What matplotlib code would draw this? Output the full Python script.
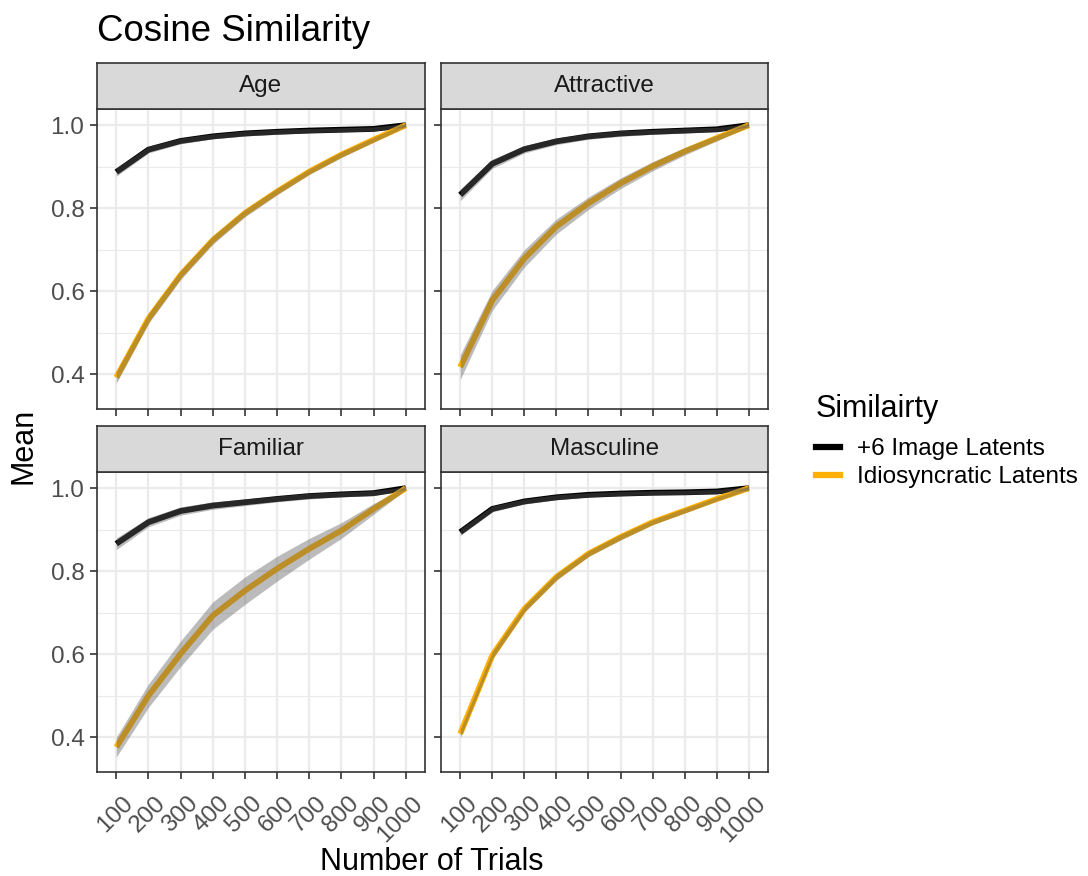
import matplotlib
matplotlib.use('Agg')
import matplotlib.pyplot as plt
import matplotlib.transforms as mtrans
import numpy as np

plt.rcParams['font.family'] = ['Liberation Sans', 'DejaVu Sans']

trials = ['100', '200', '300', '400', '500', '600', '700', '800', '900', '1000']
panels = ['Age', 'Attractive', 'Familiar', 'Masculine']
series = ['+6 Image Latents', 'Idiosyncratic Latents']
colors = ['#000000', '#FFB000']

# mean cosine similarity per panel
age_img = [0.887, 0.941, 0.962, 0.973, 0.980, 0.984, 0.987, 0.989, 0.991, 1.0]
age_idio = [0.392, 0.534, 0.639, 0.723, 0.788, 0.840, 0.888, 0.929, 0.965, 1.0]
attr_img = [0.832, 0.907, 0.942, 0.961, 0.973, 0.980, 0.984, 0.987, 0.990, 1.0]
attr_idio = [0.417, 0.578, 0.679, 0.756, 0.812, 0.860, 0.901, 0.937, 0.969, 1.0]
fam_img = [0.866, 0.918, 0.945, 0.958, 0.966, 0.974, 0.981, 0.985, 0.988, 1.0]
fam_idio = [0.376, 0.500, 0.601, 0.693, 0.753, 0.806, 0.854, 0.898, 0.950, 1.0]
masc_img = [0.894, 0.950, 0.968, 0.978, 0.984, 0.987, 0.989, 0.990, 0.992, 1.0]
masc_idio = [0.408, 0.597, 0.709, 0.786, 0.842, 0.882, 0.918, 0.946, 0.974, 1.0]

# half-width of the grey ribbons
age_img_se = [0.006, 0.004, 0.003, 0.002, 0.002, 0.002, 0.001, 0.001, 0.001, 0.0]
age_idio_se = [0.010, 0.008, 0.007, 0.006, 0.005, 0.004, 0.003, 0.003, 0.002, 0.0]
attr_img_se = [0.010, 0.007, 0.005, 0.004, 0.003, 0.003, 0.002, 0.002, 0.001, 0.0]
attr_idio_se = [0.026, 0.020, 0.017, 0.014, 0.011, 0.009, 0.007, 0.005, 0.003, 0.0]
fam_img_se = [0.010, 0.007, 0.006, 0.005, 0.004, 0.003, 0.003, 0.002, 0.002, 0.0]
fam_idio_se = [0.020, 0.024, 0.027, 0.029, 0.029, 0.026, 0.021, 0.015, 0.009, 0.0]
masc_img_se = [0.004, 0.003, 0.002, 0.002, 0.001, 0.001, 0.001, 0.001, 0.001, 0.0]
masc_idio_se = [0.006, 0.005, 0.004, 0.004, 0.003, 0.003, 0.002, 0.002, 0.001, 0.0]

means = [[age_img, age_idio], [attr_img, attr_idio], [fam_img, fam_idio], [masc_img, masc_idio]]
ses = [[age_img_se, age_idio_se], [attr_img_se, attr_idio_se],
       [fam_img_se, fam_idio_se], [masc_img_se, masc_idio_se]]

W, H = 1088, 876
fig = plt.figure(figsize=(W / 100, H / 100), dpi=100)


def box(x0, y0, x1, y1):
    return [x0 / W, 1 - y1 / H, (x1 - x0) / W, (y1 - y0) / H]


cols = [(97, 425), (441, 768)]
rows = [(63, 109, 409), (426, 472, 772)]
x = np.arange(1, 11)
edge = '#333333'
shift = mtrans.ScaledTranslation(6 / 100, -8 / 100, fig.dpi_scale_trans)

for i, name in enumerate(panels):
    c0, c1 = cols[i % 2]
    s0, p0, p1 = rows[i // 2]
    ax = fig.add_axes(box(c0, p0, c1, p1))
    for j in range(2):
        m = np.array(means[i][j])
        se = np.array(ses[i][j])
        ax.plot(x, m, color=colors[j], lw=4.2, solid_capstyle='butt', zorder=3)
        ax.fill_between(x, m - se - 0.004, m + se + 0.004, color='#5f5f5f',
                        alpha=0.42, lw=0, zorder=4)
    ax.set_xlim(0.4, 10.6)
    ax.set_ylim(0.316, 1.039)
    ax.set_yticks([0.4, 0.6, 0.8, 1.0])
    ax.set_yticks([0.5, 0.7, 0.9], minor=True)
    ax.set_xticks(x)
    ax.grid(which='major', color='#EBEBEB', lw=1.6, zorder=0)
    ax.grid(which='minor', axis='y', color='#EBEBEB', lw=0.8, zorder=0)
    ax.set_axisbelow(True)
    for sp in ax.spines.values():
        sp.set_color(edge)
        sp.set_linewidth(1.2)
    ax.tick_params(which='minor', length=0)
    ax.tick_params(which='major', length=5, width=1.2, color=edge, pad=4,
                   labelsize=17.5, labelcolor='#4D4D4D')
    if i % 2 == 0:
        ax.set_yticklabels(['0.4', '0.6', '0.8', '1.0'])
    else:
        ax.set_yticklabels([])
    if i // 2 == 1:
        ax.set_xticklabels(trials, rotation=45, ha='right', va='top',
                           rotation_mode='anchor')
        for lab in ax.get_xticklabels():
            lab.set_transform(lab.get_transform() + shift)
    else:
        ax.tick_params(axis='x', labelbottom=False)

    # strip
    sx = fig.add_axes(box(c0, s0, c1, p0))
    sx.set_facecolor('#D9D9D9')
    sx.set_xticks([])
    sx.set_yticks([])
    for sp in sx.spines.values():
        sp.set_color(edge)
        sp.set_linewidth(1.2)
    sx.text(0.5, 0.5, name, ha='center', va='center', fontsize=17.5,
            color='#1A1A1A', transform=sx.transAxes)

fig.text(97 / W, 1 - 41 / H, 'Cosine Similarity', fontsize=26.4, ha='left',
         va='baseline')
fig.text(432 / W, 1 - 870 / H, 'Number of Trials', fontsize=22, ha='center',
         va='baseline')
fig.text(24 / W, 1 - 446 / H, 'Mean', fontsize=22, ha='center',
         va='center', rotation=90)

# legend
fig.text(816 / W, 1 - 417 / H, 'Similairty', fontsize=22, ha='left', va='baseline')
handles = [plt.Line2D([], [], color=colors[k], lw=4.5) for k in range(2)]
fig.legend(handles, series, loc='upper left', bbox_to_anchor=(816 / W, 1 - 438 / H),
           frameon=False, fontsize=17.5, handlelength=1.0, handletextpad=0.7,
           labelspacing=0.25, borderaxespad=0, borderpad=0)

fig.savefig('out.png', dpi=100)
